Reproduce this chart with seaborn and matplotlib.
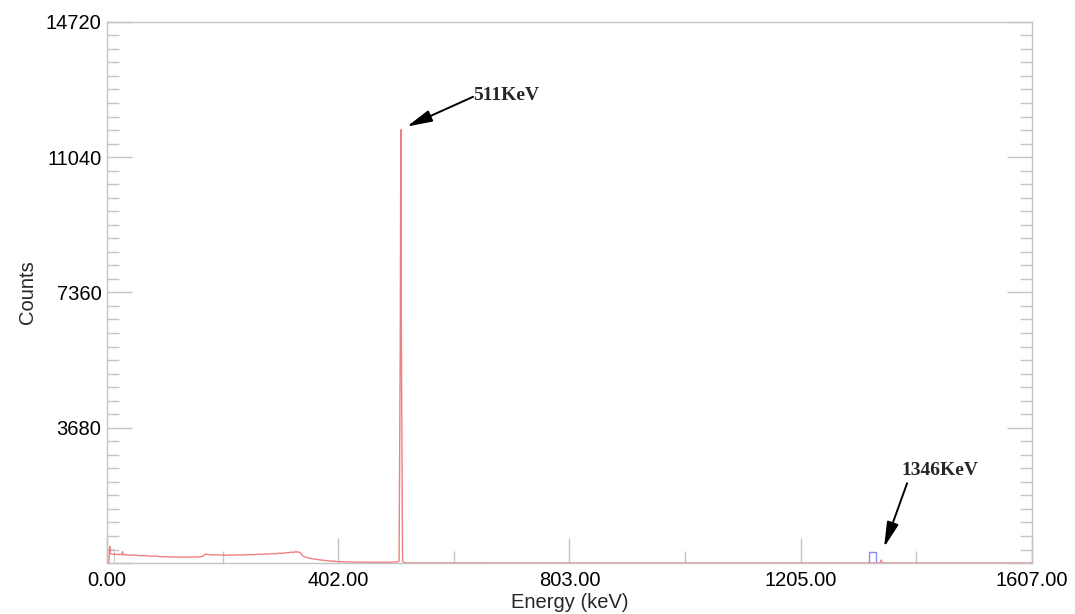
import numpy as np
import pandas as pd
import matplotlib
matplotlib.use('Agg')
import matplotlib.pyplot as plt
from matplotlib.ticker import FixedLocator, MultipleLocator
import seaborn as sns

# Spectrum (energy in keV, counts)
energy = [0, 3, 4, 5, 6, 8, 12, 18, 24, 26, 27, 28, 30, 36, 42, 48, 54, 60, 66,
          72, 78, 84, 90, 96, 102, 108, 114, 120, 126, 132, 138, 144, 150, 156,
          162, 166, 168, 171, 174, 178, 184, 190, 196, 202, 208, 214, 220, 226,
          232, 238, 244, 250, 256, 262, 268, 274, 280, 286, 292, 298, 304, 310,
          316, 320, 324, 328, 331, 334, 337, 340, 344, 350, 356, 364, 374, 386,
          401, 420, 440, 460, 480, 500, 505, 507.5, 509.5, 510.5, 511.5, 513.5,
          516, 520, 600, 800, 1000, 1200, 1340, 1343, 1345, 1347, 1400, 1607]
counts = [0, 0, 240, 450, 260, 245, 240, 232, 236, 228, 310, 225, 228, 220, 212,
          218, 205, 198, 204, 190, 186, 192, 178, 172, 176, 165, 170, 160, 166,
          158, 164, 160, 167, 163, 172, 180, 205, 245, 238, 228, 220, 226, 214,
          218, 210, 220, 212, 222, 216, 226, 222, 232, 226, 238, 234, 246, 242,
          256, 250, 266, 262, 278, 284, 296, 292, 306, 300, 296, 262, 200, 165,
          140, 118, 100, 78, 58, 40, 30, 24, 20, 21, 24, 32, 60, 6000, 11790,
          6000, 60, 15, 5, 3, 2, 2, 2, 2, 2, 80, 2, 2, 2]

# region-of-interest markers
roi_energy = [1324, 1324, 1336, 1336]
roi_counts = [0, 300, 300, 0]
bg_energy = [0, 0, 13, 13]
bg_counts = [0, 380, 380, 0]

x_ticks = [0, 401.75, 803.5, 1205.25, 1607]
x_labels = ['0.00', '402.00', '803.00', '1205.00', '1607.00']
y_ticks = [0, 3680, 7360, 11040, 14720]
y_labels = ['', '3680', '7360', '11040', '14720']

peaks = ['511KeV', '1346KeV']
peak_tip = [(521, 11870), (1350, 430)]
arrow_from = [(636, 12680), (1390, 2170)]
peak_text = [(636, 12600), (1381, 2400)]

sns.set_theme(style='white')
plt.rcParams['font.family'] = ['Liberation Sans', 'DejaVu Sans']

df = pd.DataFrame({'Energy': energy, 'Counts': counts})

fig = plt.figure(figsize=(10.75, 6.14), dpi=100)
ax = fig.add_axes([0.0995, 0.083, 0.8605, 0.8815])

ax.plot(bg_energy, bg_counts, color='#cccccc', lw=0.8)
ax.plot(roi_energy, roi_counts, color='#8a8aff', lw=1.0)
sns.lineplot(data=df, x='Energy', y='Counts', ax=ax, estimator=None, sort=False,
             color='#ee8080', lw=1.0)

ax.set_xlim(0, 1607)
ax.set_ylim(0, 14720)

ax.xaxis.set_major_locator(FixedLocator(x_ticks))
ax.set_xticklabels(x_labels)
ax.xaxis.set_minor_locator(FixedLocator([1607 / 8 * k for k in range(1, 8, 2)]))
ax.yaxis.set_major_locator(FixedLocator(y_ticks))
ax.set_yticklabels(y_labels)
ax.yaxis.set_minor_locator(MultipleLocator(368))

ax.tick_params(axis='both', which='both', direction='in', color='#c4c4c4',
               width=1.0, labelsize=14.5, labelcolor='black')
ax.tick_params(axis='both', which='major', length=18)
ax.tick_params(axis='both', which='minor', length=8.5)
ax.tick_params(axis='y', which='both', left=True, right=True)
ax.tick_params(axis='x', which='both', bottom=True, top=False, pad=6)
ax.tick_params(axis='y', which='major', pad=4)

for s in ax.spines.values():
    s.set_color('#c4c4c4')
    s.set_linewidth(1.0)

ax.set_xlabel('Energy (keV)', fontsize=14.5, labelpad=2)
ax.set_ylabel('Counts', fontsize=14.5, labelpad=6)

for lbl, tip, src, txt in zip(peaks, peak_tip, arrow_from, peak_text):
    ax.annotate('', xy=tip, xytext=src,
                arrowprops=dict(arrowstyle='-|>,head_length=0.85,head_width=0.2',
                                color='black', lw=1.4, mutation_scale=18,
                                shrinkA=0, shrinkB=0))
    ax.text(txt[0], txt[1], lbl, fontsize=14, fontweight='bold',
            family=['Liberation Serif', 'DejaVu Serif'], ha='left', va='baseline')

plt.savefig('out.png', dpi=100)
plt.close()
